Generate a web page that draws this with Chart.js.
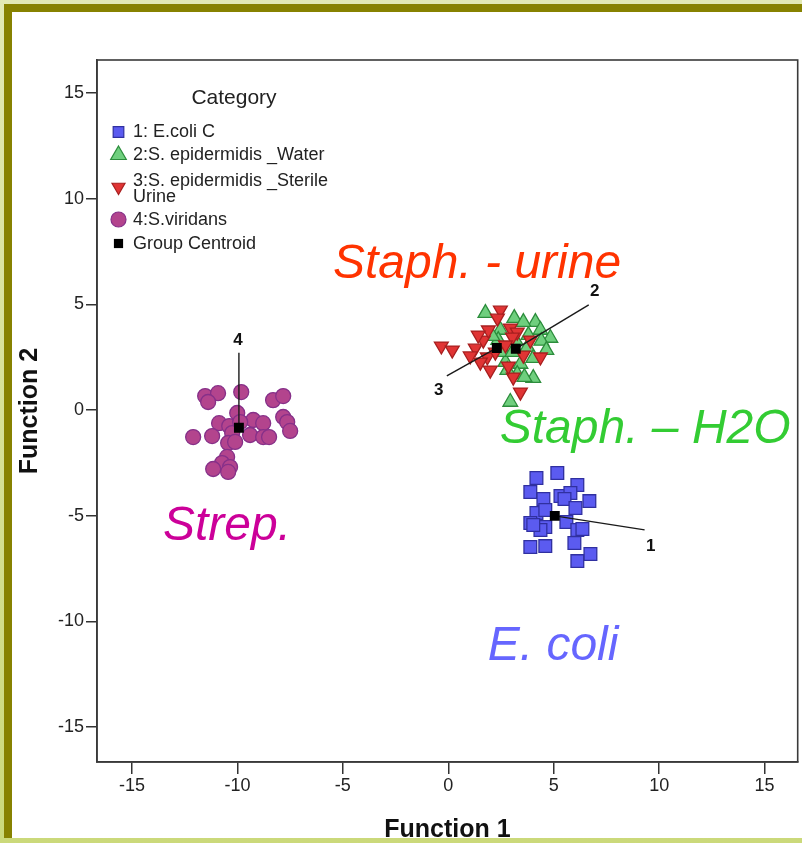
<!DOCTYPE html>
<html>
<head>
<meta charset="utf-8">
<script src="https://cdn.jsdelivr.net/npm/chart.js@4.4.0/dist/chart.umd.min.js"></script>
<style>
  html, body { margin: 0; padding: 0; }
  body {
    width: 802px; height: 843px; overflow: hidden; position: relative;
    background: linear-gradient(180deg, #e2e9b4 0%, #cbd97a 100%);
  }
  #frame {
    position: absolute; left: 4px; top: 4px; width: 798px; height: 834px;
    box-sizing: border-box; background: #ffffff;
    border-left: 8px solid #878200; border-top: 8px solid #878200;
  }
  #wrap { position: absolute; left: 12px; top: 12px; width: 796px; height: 826px; }
</style>
</head>
<body>
<div id="frame"></div>
<div id="wrap"><canvas id="chart"></canvas></div>
<script>
// Discriminant function scores by category
const xTicks = [-15, -10, -5, 0, 5, 10, 15];
const yTicks = [-15, -10, -5, 0, 5, 10, 15];
const categories = ['1: E.coli C', '2:S. epidermidis _Water', ['3:S. epidermidis _Sterile', 'Urine'], '4:S.viridans'];
const centroidName = 'Group Centroid';

const ecoliX = [4.18, 5.17, 6.12, 3.89, 4.51, 5.32, 5.79, 5.51, 6.69, 6.03, 4.18, 4.60, 3.89, 4.60, 4.37, 5.60, 6.12, 6.36, 3.89, 4.60, 5.98, 6.74, 6.12, 4.03];
const ecoliY = [-3.22, -2.98, -3.55, -3.88, -4.21, -4.07, -3.93, -4.21, -4.31, -4.64, -4.87, -4.73, -5.35, -5.54, -5.68, -5.30, -5.68, -5.63, -6.48, -6.44, -6.29, -6.81, -7.15, -5.44];

const waterX = [1.76, 3.13, 4.13, 4.37, 4.84, 2.47, 3.18, 3.75, 2.71, 3.42, 4.03, 3.27, 4.03, 3.61, 2.94, 2.61, 3.80, 4.41, 3.04, 2.80, 2.37, 3.56, 4.65, 2.09];
const waterY = [4.59, 4.35, 4.16, 3.79, 3.41, 3.79, 3.31, 2.98, 2.27, 2.18, 2.46, 1.70, 1.51, 1.56, 0.38, 2.74, 3.55, 3.27, 2.74, 1.89, 3.31, 4.16, 2.84, 3.50];

const urineX = [2.47, 2.33, -0.33, 0.19, 1.28, 1.66, 1.90, 2.94, 3.27, 3.04, 1.85, 1.52, 1.99, 4.37, 3.08, 3.42, 3.56, 2.71, 1.04, 2.23, 3.89, 2.85, 1.42];
const urineY = [4.73, 4.35, 3.03, 2.84, 2.93, 3.31, 3.79, 3.88, 3.69, 3.45, 2.51, 2.27, 1.89, 2.51, 1.56, 0.85, 2.60, 3.08, 2.56, 2.74, 3.31, 2.08, 3.55];

const viridansX = [-11.53, -10.92, -11.39, -9.82, -8.31, -7.83, -7.83, -7.64, -7.50, -10.01, -10.87, -10.39, -9.25, -8.78, -9.40, -8.78, -8.50, -11.20, -12.10, -10.25, -10.44, -10.11, -10.49, -10.73, -10.35, -11.15, -10.44, -9.87];
const viridansY = [0.66, 0.80, 0.38, 0.85, 0.47, 0.66, -0.33, -0.57, -0.99, -0.14, -0.62, -0.76, -0.47, -0.62, -1.18, -1.28, -1.28, -1.23, -1.28, -1.09, -1.56, -1.51, -2.22, -2.51, -2.70, -2.79, -2.93, -0.57];

const centroidX = [5.05, 3.20, 2.30, -9.93];
const centroidY = [-5.01, 2.90, 2.94, -0.84];
const centroidLabels = ['1', '2', '3', '4'];

// Leader line ends and number positions for each centroid (axis units)
const leaderEndX = [9.31, 6.66, -0.07, -9.93];
const leaderEndY = [-5.67, 4.98, 1.62, 2.71];
const labelPosX = [9.60, 6.94, -0.45, -9.98];
const labelPosY = [-6.43, 5.60, 0.95, 3.28];

// Group captions written on the plot
const notes = [
  { text: 'Staph. - urine', x: -5.47, y: 6.26, color: '#ff3300' },
  { text: 'Staph. \u2013 H2O', x: 2.44, y: -1.55, color: '#33cc33' },
  { text: 'Strep.', x: -13.53, y: -6.15, color: '#cc0099' },
  { text: 'E. coli', x: 1.87, y: -11.83, color: '#6666ff' }
];

const SANS = '"Liberation Sans", Arial, Helvetica, sans-serif';
const pts = (xs, ys) => xs.map((v, i) => ({ x: v, y: ys[i] }));

const styles = [
  { pointStyle: 'rect', radius: 9, rotation: 0, bg: '#5b5bf0', border: '#3030a0' },
  { pointStyle: 'triangle', radius: 8.5, rotation: 0, bg: '#6fcf7e', border: '#2c8d3c' },
  { pointStyle: 'triangle', radius: 8, rotation: 180, bg: '#e03434', border: '#a81f1f' },
  { pointStyle: 'circle', radius: 7.5, rotation: 0, bg: '#b3448d', border: '#863089' }
];
const groupData = [pts(ecoliX, ecoliY), pts(waterX, waterY), pts(urineX, urineY), pts(viridansX, viridansY)];
const groupOrder = [5, 4, 3, 6];

const datasets = groupData.map((d, i) => ({
  label: Array.isArray(categories[i]) ? categories[i].join(' ') : categories[i],
  data: d,
  pointStyle: styles[i].pointStyle,
  rotation: styles[i].rotation,
  pointRadius: styles[i].radius,
  backgroundColor: styles[i].bg,
  borderColor: styles[i].border,
  borderWidth: 1.3,
  order: groupOrder[i]
}));

centroidX.forEach((cx, i) => {
  datasets.push({
    label: 'leader ' + centroidLabels[i],
    data: [{ x: cx, y: centroidY[i] }, { x: leaderEndX[i], y: leaderEndY[i] }],
    showLine: true,
    pointRadius: 0,
    borderColor: '#1a1a1a',
    borderWidth: 1.4,
    order: 1
  });
});

datasets.push({
  label: centroidName,
  data: pts(centroidX, centroidY),
  pointStyle: 'rect',
  pointRadius: 7,
  backgroundColor: '#000000',
  borderColor: '#000000',
  borderWidth: 0,
  order: 0
});

const overlay = {
  id: 'overlay',
  afterDraw(chart) {
    const { ctx, chartArea: a, scales: { x, y } } = chart;
    ctx.save();

    // plot frame
    ctx.strokeStyle = '#3a3a3a';
    ctx.lineWidth = 1.6;
    ctx.strokeRect(a.left, a.top, a.right - a.left, a.bottom - a.top);

    // centroid numbers
    ctx.fillStyle = '#111111';
    ctx.font = 'bold 17px ' + SANS;
    ctx.textAlign = 'center';
    ctx.textBaseline = 'middle';
    centroidLabels.forEach((t, i) => {
      ctx.fillText(t, x.getPixelForValue(labelPosX[i]), y.getPixelForValue(labelPosY[i]));
    });

    // group captions
    ctx.font = 'italic 48px ' + SANS;
    ctx.textAlign = 'left';
    ctx.textBaseline = 'alphabetic';
    notes.forEach(n => {
      ctx.fillStyle = n.color;
      ctx.fillText(n.text, x.getPixelForValue(n.x), y.getPixelForValue(n.y));
    });

    // legend box
    const mx = a.left + 21.5, tx = a.left + 36;
    ctx.fillStyle = '#222222';
    ctx.font = '21px ' + SANS;
    ctx.textAlign = 'center';
    ctx.textBaseline = 'middle';
    ctx.fillText('Category', a.left + 137, a.top + 38);

    const rows = [
      { my: 72, ty: [72] },
      { my: 95, ty: [95] },
      { my: 127, ty: [121, 137] },
      { my: 159.5, ty: [160] }
    ];
    const legendSize = [7.5, 9, 7.5, 7.5];
    ctx.font = '18px ' + SANS;
    ctx.textAlign = 'left';
    rows.forEach((r, i) => {
      ctx.fillStyle = styles[i].bg;
      ctx.strokeStyle = styles[i].border;
      ctx.lineWidth = 1.2;
      Chart.helpers.drawPoint(ctx, {
        pointStyle: styles[i].pointStyle, radius: legendSize[i],
        rotation: styles[i].rotation, borderWidth: 1.2
      }, mx, a.top + r.my);
      ctx.fillStyle = '#222222';
      const lines = Array.isArray(categories[i]) ? categories[i] : [categories[i]];
      lines.forEach((ln, k) => ctx.fillText(ln, tx, a.top + r.ty[k]));
    });
    ctx.fillStyle = '#000000';
    ctx.strokeStyle = '#000000';
    Chart.helpers.drawPoint(ctx, { pointStyle: 'rect', radius: 6.5, rotation: 0, borderWidth: 0 }, mx, a.top + 183.5);
    ctx.fillStyle = '#222222';
    ctx.fillText(centroidName, tx, a.top + 184);

    ctx.restore();
  }
};

new Chart(document.getElementById('chart'), {
  type: 'scatter',
  data: { datasets },
  options: {
    responsive: true,
    maintainAspectRatio: false,
    animation: false,
    events: [],
    devicePixelRatio: 1,
    layout: { padding: { top: 48, right: 4, left: 0, bottom: 0 } },
    plugins: { legend: { display: false }, tooltip: { enabled: false } },
    scales: {
      x: {
        type: 'linear', min: -16.66, max: 16.57,
        afterBuildTicks: s => { s.ticks = xTicks.map(v => ({ value: v })); },
        afterFit: s => { s.height = 76; s.paddingLeft = 0; s.paddingRight = 0; },
        grid: { drawOnChartArea: false, drawTicks: true, tickLength: 12, color: '#333333', lineWidth: 1.5 },
        border: { display: true, color: '#3a3a3a', width: 1.6 },
        ticks: { color: '#222222', font: { size: 18, family: SANS }, padding: 1, maxRotation: 0, autoSkip: false },
        title: { display: true, text: 'Function 1', color: '#111111',
                 font: { size: 25, weight: 'bold', family: SANS, lineHeight: 1 }, padding: { top: 0, bottom: -5 } }
      },
      y: {
        type: 'linear', min: -16.66, max: 16.57,
        afterBuildTicks: s => { s.ticks = yTicks.map(v => ({ value: v })); },
        afterFit: s => { s.width = 85; s.paddingTop = 0; s.paddingBottom = 0; },
        grid: { drawOnChartArea: false, drawTicks: true, tickLength: 11, color: '#333333', lineWidth: 1.5 },
        border: { display: true, color: '#3a3a3a', width: 1.6 },
        ticks: { color: '#222222', font: { size: 18, family: SANS }, padding: 2, autoSkip: false },
        title: { display: true, text: 'Function 2', color: '#111111',
                 font: { size: 25, weight: 'bold', family: SANS, lineHeight: 1 }, padding: { top: 6, bottom: 0 } }
      }
    }
  },
  plugins: [overlay]
});
</script>
</body>
</html>
